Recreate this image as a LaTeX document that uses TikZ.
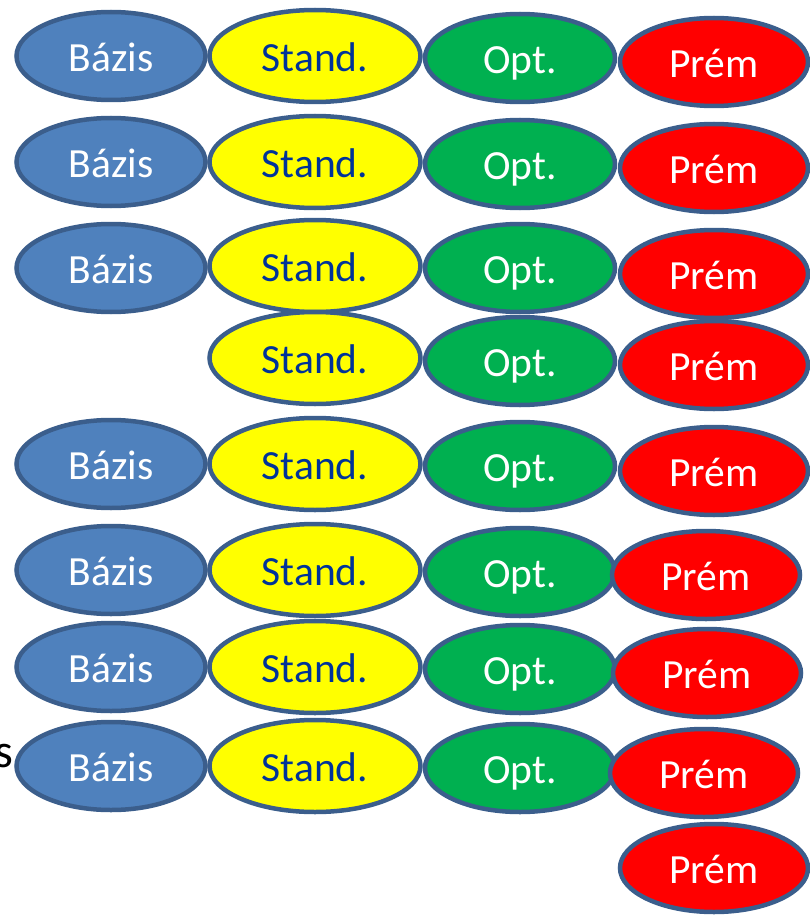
\documentclass[tikz,border=0pt]{standalone}
\usepackage{fontspec}
\setmainfont{Carlito}
\usetikzlibrary{shapes.geometric}
\definecolor{rand}{RGB}{59,94,140}
\definecolor{kek}{RGB}{79,129,189}
\definecolor{sarga}{RGB}{255,255,0}
\definecolor{sotetkek}{RGB}{0,51,153}
\definecolor{zold}{RGB}{0,176,80}
\definecolor{piros}{RGB}{255,0,0}

\begin{document}
\begin{tikzpicture}[x=1pt, y=-1pt,
  tag/.style={ellipse, draw=rand, line width=4.5pt, inner sep=0pt,
    font=\fontsize{41.5}{41.5}\selectfont, text height=31pt, text depth=0pt},
  bazis/.style={tag, fill=kek, text=white, minimum width=189pt, minimum height=88pt},
  stand/.style={tag, fill=sarga, text=sotetkek, minimum width=211pt, minimum height=92pt},
  opt/.style={tag, fill=zold, text=white, minimum width=190pt, minimum height=88pt},
  prem/.style={tag, fill=piros, text=white, minimum width=188pt, minimum height=88pt}]

  \useasboundingbox (0,0) rectangle (810,915);

  % levágott szöveg a bal szélen
  \node[anchor=base east, inner sep=0pt, font=\fontsize{48}{48}\selectfont] (s) at (13.5,767) {s};

  % 1. sor
  \node[bazis] (b1) at (111,56) {Bázis};
  \node[stand] (s1) at (315,56) {Stand.};
  \node[opt]   (o1) at (520,58) {Opt.};
  \node[prem]  (p1) at (714,62) {Prém};
  % 2. sor
  \node[bazis] (b2) at (111,162) {Bázis};
  \node[stand] (s2) at (315,162) {Stand.};
  \node[opt]   (o2) at (520,164) {Opt.};
  \node[prem]  (p2) at (714,168) {Prém};
  % 3. sor
  \node[bazis] (b3) at (111,268) {Bázis};
  \node[stand] (s3) at (315,266) {Stand.};
  \node[opt]   (o3) at (520,268) {Opt.};
  \node[prem]  (p3) at (714,274) {Prém};
  % 4. sor (nincs Bázis)
  \node[stand] (s4) at (315,358) {Stand.};
  \node[opt]   (o4) at (520,361) {Opt.};
  \node[prem]  (p4) at (714,365) {Prém};
  % 5. sor
  \node[bazis] (b5) at (111,464) {Bázis};
  \node[stand] (s5) at (315,464) {Stand.};
  \node[opt]   (o5) at (520,466) {Opt.};
  \node[prem]  (p5) at (714,471) {Prém};
  % 6. sor
  \node[bazis] (b6) at (111,570) {Bázis};
  \node[stand] (s6) at (315,570) {Stand.};
  \node[opt]   (o6) at (520,572) {Opt.};
  \node[prem]  (p6) at (706,575) {Prém};
  % 7. sor
  \node[bazis] (b7) at (111,667) {Bázis};
  \node[stand] (s7) at (315,667) {Stand.};
  \node[opt]   (o7) at (520,669) {Opt.};
  \node[prem]  (p7) at (707,673) {Prém};
  % 8. sor
  \node[bazis] (b8) at (111,766) {Bázis};
  \node[stand] (s8) at (315,766) {Stand.};
  \node[opt]   (o8) at (520,768) {Opt.};
  \node[prem]  (p8) at (704,773) {Prém};
  % 9. sor
  \node[prem]  (p9) at (714,868) {Prém};
\end{tikzpicture}
\end{document}
